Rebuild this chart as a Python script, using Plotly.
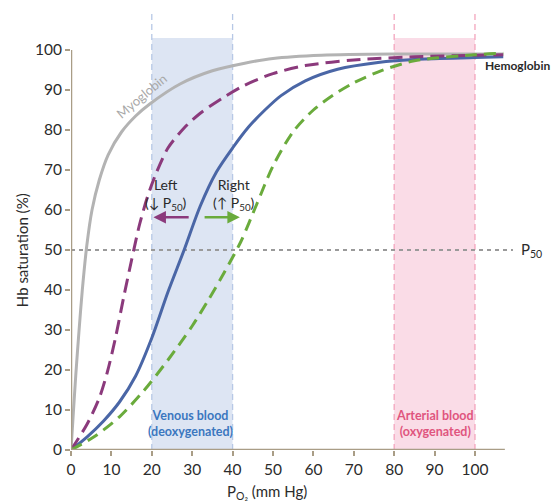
import plotly.graph_objects as go

# ---- data ----
myo_x = [0, 0.5, 1.2, 2, 2.8, 3.9, 5.2, 7, 9.2, 12.5, 16, 19.5, 27, 35, 43, 50, 62, 80, 100, 107]
myo_y = [0, 8, 19, 30, 40, 51, 60, 67.5, 73.8, 79.5, 83.5, 86.5, 91.5, 94.8, 96.7, 97.9, 98.7, 99, 99, 99]

left_x = [0, 4, 7, 9, 11, 13, 15, 17, 19, 21, 24, 28, 32, 38, 43, 50, 58, 70, 85, 100, 107]
left_y = [0, 6.5, 13, 19.5, 28, 38, 47.5, 56.5, 63.5, 69, 75.5, 80.5, 84.2, 88.3, 91.2, 94.1, 96.1, 97.5, 98.3, 98.7, 98.8]

hb_x = [0, 4, 8, 12, 16, 20, 24, 28, 32, 36, 40, 44, 48, 52, 58, 66, 76, 86, 100, 107]
hb_y = [0, 3.3, 7.2, 12, 18.5, 28, 39.5, 50, 61, 69.5, 75.5, 80.8, 85, 88.6, 92.3, 95.2, 96.9, 97.7, 98.1, 98.3]

right_x = [0, 6, 12, 18, 24, 30, 34, 38, 42, 46, 50, 55, 60, 65, 70, 77, 85, 100, 107]
right_y = [0, 3.5, 8.3, 14.8, 22.5, 31, 37.5, 44.5, 52, 61.5, 71, 79.6, 85, 88.8, 91.8, 94.9, 97.3, 98.8, 99.2]

x_ticks = [0, 10, 20, 30, 40, 50, 60, 70, 80, 90, 100]
y_ticks = [0, 10, 20, 30, 40, 50, 60, 70, 80, 90, 100]

venous_range = [20, 40]
arterial_range = [80, 100]
p50_value = 50

FONT = "Lato, 'Open Sans', sans-serif"
TEXT = "#2b2b2b"
AXIS = "#a99d86"

fig = go.Figure()

fig.add_trace(go.Scatter(x=myo_x, y=myo_y, mode="lines", line=dict(color="#b3b3b3", width=3, shape="spline", smoothing=0.8), hoverinfo="skip"))
fig.add_trace(go.Scatter(x=hb_x, y=hb_y, mode="lines", line=dict(color="#4a66a6", width=3, shape="spline", smoothing=0.8), hoverinfo="skip"))
fig.add_trace(go.Scatter(x=left_x, y=left_y, mode="lines", line=dict(color="#8b3a7c", width=3, dash="14px,7px", shape="spline", smoothing=0.8), hoverinfo="skip"))
fig.add_trace(go.Scatter(x=right_x, y=right_y, mode="lines", line=dict(color="#6aab3c", width=3, dash="12px,7px", shape="spline", smoothing=0.8), hoverinfo="skip"))

shapes = [
    dict(type="rect", xref="x", yref="y", x0=venous_range[0], x1=venous_range[1], y0=0, y1=103,
         fillcolor="#dde5f3", line=dict(width=0), layer="below"),
    dict(type="rect", xref="x", yref="y", x0=arterial_range[0], x1=arterial_range[1], y0=0, y1=103,
         fillcolor="#fadce7", line=dict(width=0), layer="below"),
]
for xv in venous_range:
    shapes.append(dict(type="line", xref="x", yref="y", x0=xv, x1=xv, y0=0, y1=109.5,
                       line=dict(color="#b7c8e6", width=1.3, dash="6px,4px"), layer="below"))
for xv in arterial_range:
    shapes.append(dict(type="line", xref="x", yref="y", x0=xv, x1=xv, y0=0, y1=109.5,
                       line=dict(color="#f3a5bd", width=1.3, dash="6px,4px"), layer="below"))
shapes.append(dict(type="line", xref="x", yref="y", x0=0, x1=109.4, y0=p50_value, y1=p50_value,
                   line=dict(color="#9a9a9a", width=2, dash="4px,4px"), layer="below"))
shapes.append(dict(type="line", xref="x", yref="y", x0=0, x1=107.4, y0=0, y1=0,
                   line=dict(color=AXIS, width=2.5), layer="above"))
shapes.append(dict(type="line", xref="x", yref="y", x0=0, x1=0, y0=0, y1=100,
                   line=dict(color=AXIS, width=2.5), layer="above"))

annotations = [
    dict(x=17.4, y=88.6, text="Myoglobin", showarrow=False, textangle=-40,
         font=dict(family=FONT, size=13, color="#a8a8a8")),
    dict(x=101.9, y=96.2, text="<b>Hemoglobin</b>", showarrow=False, xanchor="left",
         font=dict(family=FONT, size=12, color="#2a2a2a")),
    dict(x=111.0, y=p50_value, text="P<sub>50</sub>", showarrow=False, xanchor="left",
         font=dict(family=FONT, size=15, color=TEXT)),
    dict(x=23.6, y=63.8, text="Left<br>(↓ P<sub>50</sub>)", showarrow=False,
         font=dict(family=FONT, size=14, color="#2a2a2a")),
    dict(x=40.4, y=63.8, text="Right<br>(↑ P<sub>50</sub>)", showarrow=False,
         font=dict(family=FONT, size=14, color="#2a2a2a")),
    dict(x=20.4, y=58.2, ax=29.5, ay=58.2, axref="x", ayref="y", xref="x", yref="y", text="",
         showarrow=True, arrowhead=2, arrowsize=1, arrowwidth=2.5, arrowcolor="#8b3a7c"),
    dict(x=41.8, y=58.2, ax=32.7, ay=58.2, axref="x", ayref="y", xref="x", yref="y", text="",
         showarrow=True, arrowhead=2, arrowsize=1, arrowwidth=2.5, arrowcolor="#6aab3c"),
    dict(x=29.6, y=6.6, text="<b>Venous blood<br>(deoxygenated)</b>", showarrow=False,
         font=dict(family=FONT, size=12.5, color="#3b77bf")),
    dict(x=90.0, y=6.6, text="<b>Arterial blood<br>(oxygenated)</b>", showarrow=False,
         font=dict(family=FONT, size=12.5, color="#e0557e")),
    dict(x=48.5, y=-0.0955, xref="x", yref="paper", text="P<sub>O₂</sub> (mm Hg)", showarrow=False,
         yanchor="middle", font=dict(family=FONT, size=15, color=TEXT)),
    dict(x=-0.1, y=50, xref="paper", yref="y", text="Hb saturation (%)", showarrow=False,
         textangle=-90, xanchor="center", font=dict(family=FONT, size=15, color=TEXT)),
]

fig.update_layout(
    width=551, height=496,
    margin=dict(l=63, r=0, t=2, b=54),
    paper_bgcolor="white", plot_bgcolor="white",
    showlegend=False,
    shapes=shapes,
    annotations=annotations,
    xaxis=dict(range=[0, 120.8], tickvals=x_ticks, showgrid=False, zeroline=False, showline=False,
               ticks="outside", ticklen=5, tickwidth=1.5, tickcolor=AXIS,
               tickfont=dict(family=FONT, size=15.5, color=TEXT), fixedrange=True),
    yaxis=dict(range=[0, 110], tickvals=y_ticks, showgrid=False, zeroline=False, showline=False,
               ticks="outside", ticklen=5, tickwidth=1.5, tickcolor=AXIS,
               tickfont=dict(family=FONT, size=15.5, color=TEXT), fixedrange=True),
)

fig.write_html("out.html")
